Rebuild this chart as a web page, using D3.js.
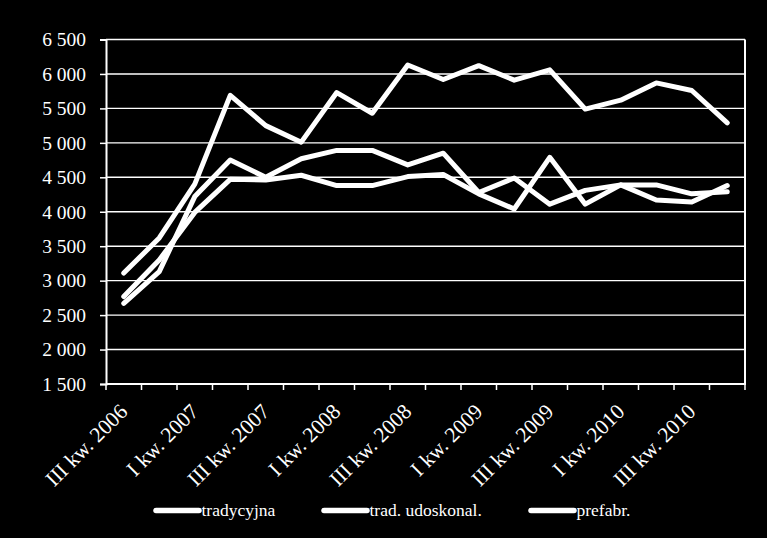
<!DOCTYPE html>
<html>
<head>
<meta charset="utf-8">
<script src="https://cdn.jsdelivr.net/npm/d3@7"></script>
<style>
  html, body { margin: 0; padding: 0; background: #000; }
  svg { display: block; }
</style>
</head>
<body>
<svg id="chart" width="767" height="538"></svg>
<script>
const categories = ["III kw. 2006","IV kw. 2006","I kw. 2007","II kw. 2007","III kw. 2007","IV kw. 2007",
  "I kw. 2008","II kw. 2008","III kw. 2008","IV kw. 2008","I kw. 2009","II kw. 2009",
  "III kw. 2009","IV kw. 2009","I kw. 2010","II kw. 2010","III kw. 2010","IV kw. 2010"];
const tradycyjna   = [2670, 3130, 4220, 4750, 4500, 4770, 4890, 4890, 4680, 4850, 4280, 4490, 4110, 4310, 4390, 4390, 4260, 4290];
const tradUdoskonal = [2770, 3300, 3990, 4470, 4460, 4530, 4380, 4380, 4510, 4540, 4260, 4040, 4790, 4110, 4390, 4170, 4140, 4380];
const prefabr      = [3110, 3620, 4400, 5690, 5250, 5010, 5730, 5430, 6130, 5920, 6120, 5910, 6060, 5490, 5620, 5870, 5760, 5290];
const seriesNames = ["tradycyjna", "trad. udoskonal.", "prefabr."];
const yTicks = [1500, 2000, 2500, 3000, 3500, 4000, 4500, 5000, 5500, 6000, 6500];

const seriesData = [tradycyjna, tradUdoskonal, prefabr];
const FONT = "'Liberation Serif','Times New Roman','DejaVu Serif',serif";

const svg = d3.select("#chart");
const L = 106, R = 745, T = 39.5, B = 384;

const x = d3.scaleBand().domain(categories).range([L, R]).padding(0);
const y = d3.scaleLinear().domain([1500, 6500]).range([B, T]);
const cx = c => x(c) + x.bandwidth() / 2;

// gridlines
svg.append("g").selectAll("line").data(yTicks.filter(v => v > 1500)).join("line")
  .attr("x1", L).attr("x2", R)
  .attr("y1", d => y(d)).attr("y2", d => y(d))
  .attr("stroke", "#fff").attr("stroke-width", 1.4);

// y axis
const yAxis = svg.append("g").attr("transform", `translate(${L},0)`)
  .call(d3.axisLeft(y).tickValues(yTicks).tickSize(6).tickPadding(14)
    .tickFormat(d => d3.format(",")(d).replace(",", " ")));
yAxis.select(".domain").attr("stroke", "#fff").attr("stroke-width", 2);
yAxis.selectAll(".tick line").attr("stroke", "#fff").attr("stroke-width", 1.5);
yAxis.selectAll(".tick text").attr("fill", "#fff").attr("font-family", FONT).attr("font-size", 19.5);

// right border
svg.append("line").attr("x1", R).attr("x2", R).attr("y1", T).attr("y2", B)
  .attr("stroke", "#fff").attr("stroke-width", 2);

// x axis
svg.append("line").attr("x1", L).attr("x2", R + 1).attr("y1", B).attr("y2", B)
  .attr("stroke", "#fff").attr("stroke-width", 2);
const boundaries = categories.map(c => x(c)).concat([R]);
svg.append("g").selectAll("line").data(boundaries).join("line")
  .attr("x1", d => d).attr("x2", d => d).attr("y1", B).attr("y2", B + 6)
  .attr("stroke", "#fff").attr("stroke-width", 1.5);

svg.append("g").selectAll("text").data(categories.filter((c, i) => i % 2 === 0)).join("text")
  .attr("transform", d => `translate(${cx(d) + 5},${B + 29}) rotate(-45)`)
  .attr("text-anchor", "end")
  .attr("fill", "#fff").attr("font-family", FONT).attr("font-size", 21.5)
  .text(d => d);

// lines
const line = d3.line().x((d, i) => cx(categories[i])).y(d => y(d));
svg.append("g").selectAll("path").data(seriesData).join("path")
  .attr("d", d => line(d))
  .attr("fill", "none").attr("stroke", "#fff").attr("stroke-width", 5)
  .attr("stroke-linejoin", "round").attr("stroke-linecap", "round");

// legend
const legendX = [156, 324, 531];
const lg = svg.append("g").selectAll("g").data(seriesNames).join("g")
  .attr("transform", (d, i) => `translate(${legendX[i]},510.5)`);
lg.append("line").attr("x1", 0).attr("x2", 43).attr("y1", 0).attr("y2", 0)
  .attr("stroke", "#fff").attr("stroke-width", 5.5).attr("stroke-linecap", "round");
lg.append("text").attr("x", 45.5).attr("dy", "0.33em")
  .attr("fill", "#fff").attr("font-family", FONT).attr("font-size", 17.5)
  .text(d => d);
</script>
</body>
</html>
